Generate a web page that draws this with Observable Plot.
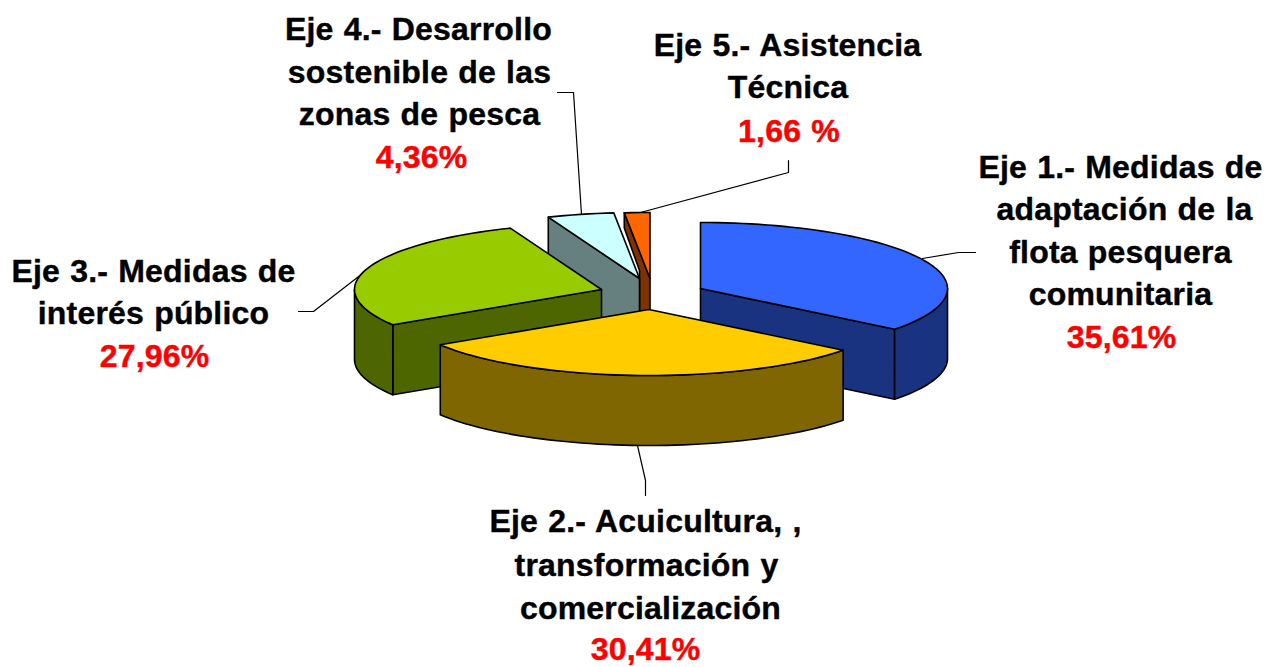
<!DOCTYPE html>
<html>
<head>
<meta charset="utf-8">
<style>html,body{margin:0;padding:0;background:#fff}svg{display:block}svg text{letter-spacing:0.2px;word-spacing:1px}</style>
<script src="https://cdn.jsdelivr.net/npm/d3@7"></script>
<script src="https://cdn.jsdelivr.net/npm/@observablehq/plot@0.6"></script>
</head>
<body>
<div id="chart"></div>
<script>
// Data
const categories = ["Eje 1", "Eje 2", "Eje 3", "Eje 4", "Eje 5"];
const shares = [35.61, 30.41, 27.96, 4.36, 1.66];
const topColors = ["#3366ff", "#ffcc00", "#99cc00", "#ccffff", "#ff6600"];
const sideColors = ["#1a3380", "#806600", "#4d6600", "#668080", "#803300"];

// Exploded slice centres in chart space
const centreX = [700, 648.5, 601, 639, 649.5];
const centreY = [288, 309, 289, 278, 278];
const radiusX = 247, radiusY = 66, depth = 70;
const paintOrder = [4, 3, 2, 0, 1];

// Labels
const labelText = [
  "Eje 1.- Medidas de", "adaptación de la", "flota pesquera", "comunitaria", "35,61%",
  "Eje 2.- Acuicultura, ,", "transformación y", "comercialización", "30,41%",
  "Eje 3.- Medidas de", "interés público", "27,96%",
  "Eje 4.- Desarrollo", "sostenible de las", "zonas de pesca", "4,36%",
  "Eje 5.- Asistencia", "Técnica", "1,66 %"
];
const labelX = [1120,1124,1120,1120,1121, 645,646,650,645, 153,153,154, 418,419,419,421, 787,787.5,788.5];
const labelY = [167,209,252,294,337, 521,565,608,649, 271,313,356, 29,72,114,157, 45,87,131];
const labelColor = labelText.map(t => /^[\d,]+ ?%$/.test(t) ? "#ff0000" : "#000000");

// Leader lines
const leaderId = [0,0,0, 1,1,1, 2,2,2, 3,3,3, 4,4,4];
const leaderX = [922,958,975, 637,645,645, 362,313,298, 581,573,557, 640,788,788];
const leaderY = [258,252,252, 445,480,495, 273,311,311, 214,92,92, 212,172,160];

// Slice geometry derived from the shares
const total = d3.sum(shares);
const cum = d3.cumsum(shares);
const startDeg = i => (i === 0 ? 0 : cum[i - 1]) / total * 360;
const endDeg = i => cum[i] / total * 360;
const px = (i, deg) => centreX[i] + radiusX * Math.sin(deg * Math.PI / 180);
const py = (i, deg) => centreY[i] - radiusY * Math.cos(deg * Math.PI / 180);

const rows = [];
let pid = 0;
function poly(pts, fill) {
  const id = pid++;
  [...pts, pts[0]].forEach(([x, y]) => rows.push({id, x, y, fill}));
}
function arc(i, a, b, dy) {
  const n = Math.max(2, Math.ceil(Math.abs(b - a) / 2));
  return d3.range(n + 1).map(k => {
    const d = a + (b - a) * k / n;
    return [px(i, d), py(i, d) + dy];
  });
}
for (const i of paintOrder) {
  const a = startDeg(i), b = endDeg(i);
  const cx = centreX[i], cy = centreY[i];
  if (i === 4) {
    // the narrowest slice's wall is cut away by its neighbour, leaving a white sliver
    const nx = centreX[3];
    poly([[cx, cy], [px(i, a), py(i, a)], [px(i, a), py(i, a) + 15], [nx, cy - 8], [nx, cy + depth + 1], [cx, cy + depth + 1]], sideColors[i]);
  } else if (a > 180) {
    poly([[cx, cy], [px(i, a), py(i, a)], [px(i, a), py(i, a) + depth], [cx, cy + depth]], sideColors[i]);
  }
  if (b < 180) poly([[cx, cy], [px(i, b), py(i, b)], [px(i, b), py(i, b) + depth], [cx, cy + depth]], sideColors[i]);
  const lo = Math.max(a, 90), hi = Math.min(b, 270);
  if (hi > lo) poly([...arc(i, lo, hi, 0), ...arc(i, hi, lo, depth)], sideColors[i]);
  poly([[cx, cy], ...arc(i, a, b, 0)], topColors[i]);
}

const leaders = leaderId.map((id, k) => ({id, x: leaderX[k], y: leaderY[k]}));
const labels = labelText.map((t, k) => ({t, x: labelX[k], y: labelY[k], c: labelColor[k]}));

const chart = Plot.plot({
  width: 1266,
  height: 667,
  margin: 0,
  style: {background: "#fff"},
  x: {domain: [0, 1266], range: [0, 1266], axis: null},
  y: {domain: [0, 667], range: [0, 667], axis: null},
  marks: [
    Plot.line(leaders, {x: "x", y: "y", z: "id", stroke: "#000", strokeWidth: 1.2}),
    Plot.line(rows, {x: "x", y: "y", z: "id", fill: "fill", stroke: "#000", strokeWidth: 1.6, strokeLinejoin: "round"}),
    Plot.text(labels, {
      x: "x", y: "y", text: "t", fill: "c", stroke: "c", strokeWidth: 0.4,
      fontFamily: "Liberation Sans", fontWeight: "bold", fontSize: 32, textAnchor: "middle", lineAnchor: "middle"
    })
  ]
});
document.getElementById("chart").appendChild(chart);
</script>
</body>
</html>
